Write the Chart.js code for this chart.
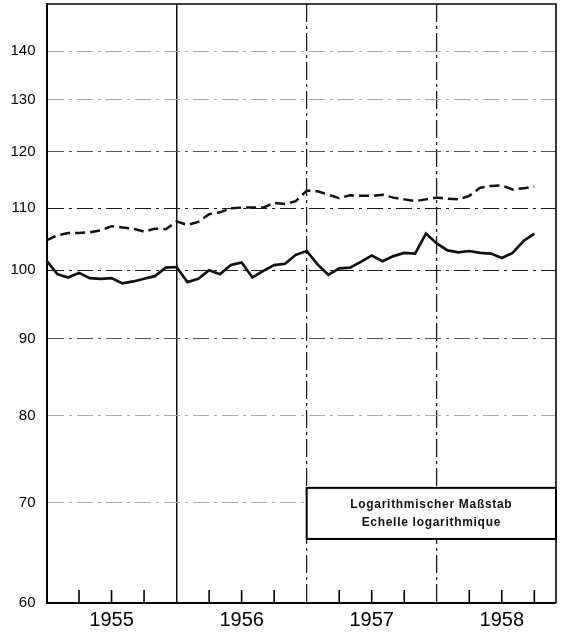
<!DOCTYPE html>
<html>
<head>
<meta charset="utf-8">
<title>Logarithmischer Maßstab</title>
<script src="https://cdn.jsdelivr.net/npm/chart.js@4.4.1/dist/chart.umd.min.js"></script>
<style>
  body { margin: 0; background: #fff; }
  #wrap { width: 561px; height: 633px; }
</style>
</head>
<body>
<div id="wrap"><canvas id="grafik" width="561" height="633"></canvas></div>
<script>
// Jahre und Monate (Kategorien)
var jahre = ['1955', '1956', '1957', '1958'];
var monate = [];
jahre.forEach(function (j) {
    for (var m = 1; m <= 12; m++) monate.push(j + '-' + (m < 10 ? '0' : '') + m);
});

// obere Kurve (gestrichelt), Jan 1955 - Okt 1958
var reiheGestrichelt = [
    104.7, 105.5, 105.9, 105.9, 106.0, 106.3, 107.0, 106.8, 106.6, 106.1, 106.6, 106.5,
    107.8, 107.2, 107.7, 109.0, 109.3, 110.0, 110.1, 110.1, 110.1, 110.9, 110.7, 111.2,
    113.0, 112.9, 112.3, 111.7, 112.2, 112.1, 112.1, 112.3, 111.8, 111.5, 111.2, 111.5,
    111.8, 111.6, 111.5, 112.1, 113.5, 113.8, 113.9, 113.2, 113.4, 113.7
];

// untere Kurve (durchgezogen)
var reiheDurchgezogen = [
    101.5, 99.4, 98.9, 99.6, 98.8, 98.7, 98.8, 98.0, 98.3, 98.7, 99.1, 100.4,
    100.5, 98.2, 98.7, 100.0, 99.4, 100.8, 101.2, 98.9, 99.9, 100.8, 101.0, 102.4,
    103.0, 100.9, 99.3, 100.3, 100.4, 101.3, 102.3, 101.4, 102.2, 102.7, 102.6, 105.8,
    104.2, 103.1, 102.8, 103.0, 102.7, 102.6, 101.9, 102.7, 104.6, 105.8
];

var yWerte = [60, 70, 80, 90, 100, 110, 120, 130, 140];
var kastenText = ['Logarithmischer Maßstab', 'Echelle logarithmique'];

// Rahmen, Quartalsstriche und Textkasten
var rahmen = {
    id: 'rahmen',
    afterDatasetsDraw: function (chart) {
        var ctx = chart.ctx, a = chart.chartArea;
        var sx = chart.scales.x, sy = chart.scales.y;
        ctx.save();
        ctx.strokeStyle = '#000';
        ctx.lineWidth = 1.6;
        for (var i = 3; i < monate.length; i += 3) {
            if (i % 12 === 0) continue;
            var px = sx.getPixelForValue(i);
            ctx.beginPath();
            ctx.moveTo(px, a.bottom);
            ctx.lineTo(px, a.bottom - 13);
            ctx.stroke();
        }
        ctx.beginPath();
        ctx.moveTo(a.left, a.top);
        ctx.lineTo(a.right, a.top);
        ctx.lineTo(a.right, a.bottom);
        ctx.stroke();

        var x1 = sx.getPixelForValue(24), x2 = a.right;
        var y1 = sy.getPixelForValue(71.6), y2 = sy.getPixelForValue(66.2);
        ctx.fillStyle = '#fff';
        ctx.fillRect(x1, y1, x2 - x1, y2 - y1);
        ctx.lineWidth = 2;
        ctx.strokeRect(x1, y1, x2 - x1, y2 - y1);
        ctx.fillStyle = '#111';
        ctx.font = 'bold 12px "Liberation Sans", Arial, sans-serif';
        ctx.letterSpacing = '0.7px';
        ctx.textAlign = 'center';
        ctx.textBaseline = 'middle';
        var mx = (x1 + x2) / 2, my = (y1 + y2) / 2;
        ctx.fillText(kastenText[0], mx, my - 9);
        ctx.fillText(kastenText[1], mx, my + 9);
        ctx.restore();
    }
};

var chart = new Chart(document.getElementById('grafik').getContext('2d'), {
    type: 'line',
    data: {
        labels: monate,
        datasets: [{
            label: 'gestrichelt',
            data: reiheGestrichelt,
            borderColor: '#111',
            borderWidth: 2.5,
            borderDash: [10, 5],
            pointRadius: 0,
            tension: 0,
            fill: false
        }, {
            label: 'durchgezogen',
            data: reiheDurchgezogen,
            borderColor: '#111',
            borderWidth: 2.7,
            pointRadius: 0,
            tension: 0,
            fill: false
        }]
    },
    options: {
        responsive: false,
        animation: false,
        layout: { padding: { left: 0, right: 5, top: 4, bottom: 0 } },
        plugins: {
            legend: { display: false },
            tooltip: { enabled: false }
        },
        scales: {
            x: {
                type: 'category',
                offset: false,
                afterFit: function (s) { s.height = 30; s.paddingLeft = 0; s.paddingRight = 0; },
                grid: {
                    drawTicks: false,
                    color: function (c) {
                        return (c.index > 0 && c.index % 12 === 0) ? '#111' : 'rgba(0,0,0,0)';
                    },
                    lineWidth: function (c) { return c.index === 12 ? 1.5 : 1.2; }
                },
                border: {
                    color: '#000',
                    width: 2,
                    dash: function (c) {
                        return (c.index === 24 || c.index === 36) ? [18, 4, 3, 4] : [];
                    }
                },
                ticks: {
                    autoSkip: false,
                    maxRotation: 0,
                    padding: 5,
                    color: '#000',
                    font: { family: '"Liberation Sans", Arial, sans-serif', size: 20 },
                    callback: function (v, i) {
                        return i % 12 === 6 ? jahre[Math.floor(i / 12)] : '';
                    }
                }
            },
            y: {
                type: 'logarithmic',
                min: 60,
                max: 150.5,
                afterFit: function (s) { s.width = 46.5; s.paddingTop = 0; s.paddingBottom = 0; },
                afterBuildTicks: function (s) {
                    s.ticks = yWerte.map(function (v) { return { value: v }; });
                },
                grid: {
                    drawTicks: false,
                    lineWidth: 1.1,
                    color: function (c) {
                        var v = c.tick ? c.tick.value : 0;
                        if (v === 60) return 'rgba(0,0,0,0)';
                        if (v === 100 || v === 110) return '#1a1a1a';
                        if (v === 90 || v === 120) return '#555';
                        return '#aaa';
                    }
                },
                border: { color: '#000', width: 2, dash: [16, 5, 3, 5] },
                ticks: {
                    padding: 11,
                    color: '#000',
                    font: { family: '"Liberation Sans", Arial, sans-serif', size: 15 },
                    callback: function (v) { return String(v); }
                }
            }
        }
    },
    plugins: [rahmen]
});
</script>
</body>
</html>
